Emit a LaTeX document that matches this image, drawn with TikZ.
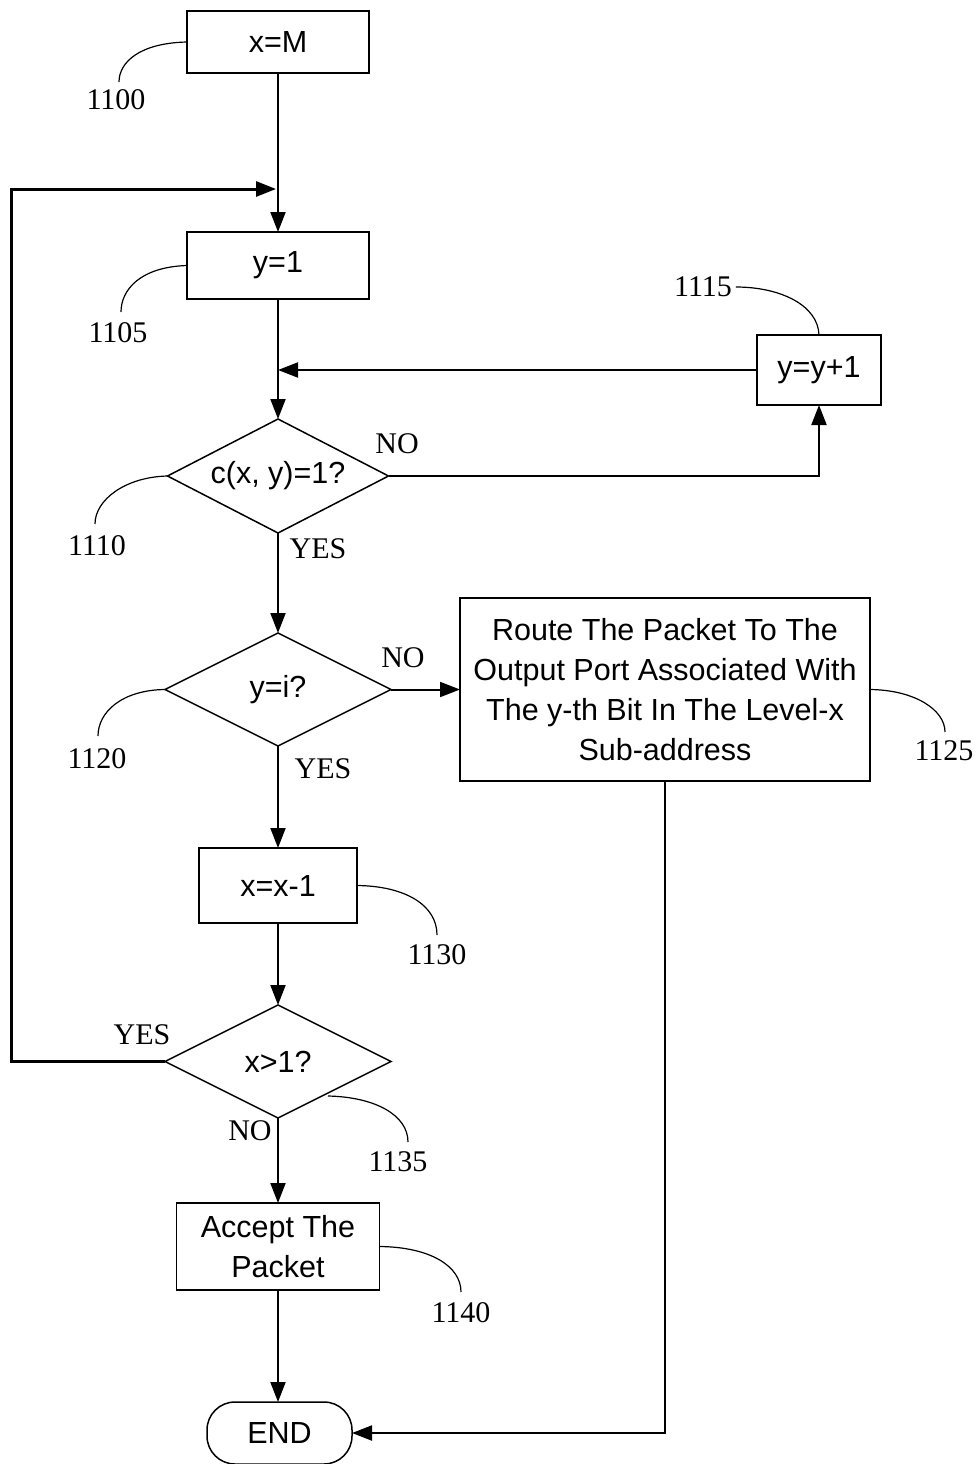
\documentclass[tikz,border=0pt]{standalone}
\usepackage{fontspec}
\setmainfont{Liberation Serif}
\newfontfamily\arialf{Liberation Sans}
\usetikzlibrary{arrows.meta,shapes.geometric}
\begin{document}
\begin{tikzpicture}[x=1pt,y=-1pt,
  every node/.style={inner sep=0pt,outer sep=0pt},
  box/.style={draw,line width=1.5pt,rectangle,align=center,font=\arialf\fontsize{30.5}{40}\selectfont},
  dia/.style={draw,line width=1.5pt,diamond,font=\arialf\fontsize{30.5}{40}\selectfont},
  lbl/.style={font=\fontsize{30}{32}\selectfont},
  arr/.style={line width=2pt,-{Triangle[length=20pt,width=15pt]}},
  lead/.style={line width=1.2pt}]
\useasboundingbox (0,0) rectangle (977,1464);
\fill[white] (0,0) rectangle (977,1464);

% nodes
\node[box,minimum width=182pt,minimum height=62pt] (b1100) at (278,42) {x=M};
\node[box,minimum width=182pt,minimum height=67pt] (b1105) at (278,265.5) {y=1};
\node[dia,minimum width=221pt,minimum height=114pt] (d1110) at (278,476) {\makebox[0pt]{c(x, y)=1?}};
\node[box,minimum width=124pt,minimum height=70pt] (b1115) at (819,370) {y=y+1};
\node[dia,minimum width=226pt,minimum height=113pt] (d1120) at (278,689.5) {\makebox[0pt]{y=i?}};
\node[box,minimum width=410pt,minimum height=183pt] (b1125) at (665,689.5)
  {Route The Packet To The\\Output Port Associated With\\The y-th Bit In The Level-x\\Sub-address};
\node[box,minimum width=158pt,minimum height=75pt] (b1130) at (278,885.5) {x=x-1};
\node[dia,minimum width=226pt,minimum height=113pt] (d1135) at (278,1061.5) {\makebox[0pt]{x>1?}};
\node[box,minimum width=203pt,minimum height=87pt] (b1140) at (278,1246.5) {Accept The\\Packet};
\node[box,rounded corners=28pt,minimum width=145pt,minimum height=62pt] (bend) at (279.5,1433) {END};

% connectors
\coordinate (loopin) at (276,189);
\coordinate (merge) at (278,370);
\coordinate (loopcorner) at (11,1061.5);
\draw[arr] (b1100.south) -- (b1105.north);
\draw[line width=3pt,-{Triangle[length=20pt,width=15pt]}] (d1135.west) -- (loopcorner) |- (loopin);
\draw[arr] (b1105.south) -- (d1110.north);
\draw[arr] (b1115.west) -- (merge);
\draw[arr] (d1110.east) -| (b1115.south);
\draw[arr] (d1110.south) -- (d1120.north);
\draw[arr] (d1120.east) -- (b1125.west);
\draw[arr] (d1120.south) -- (b1130.north);
\draw[arr] (b1130.south) -- (d1135.north);
\draw[arr] (d1135.south) -- (b1140.north);
\draw[arr] (b1140.south) -- (b1140.south |- bend.north);
\draw[arr] (b1125.south) |- (bend.east);

% branch labels
\node[lbl] (no1) at (397,444) {NO};
\node[lbl] (yes1) at (318,549) {YES};
\node[lbl] (no2) at (403,658) {NO};
\node[lbl] (yes2) at (323,769) {YES};
\node[lbl] (yes3) at (142,1035) {YES};
\node[lbl] (no3) at (250,1131) {NO};

% reference numerals and leaders
\node[lbl] (n1100) at (116,100) {1100};
\draw[lead] (b1100.west) .. controls (140,43) and (119,62) .. (119,82);
\node[lbl] (n1105) at (118,333) {1105};
\draw[lead] (b1105.west) .. controls (140,267) and (121,290) .. (121,312);
\node[lbl] (n1110) at (97,546) {1110};
\draw[lead] (d1110.west) .. controls (125,477) and (95,500) .. (95,524);
\node[lbl] (n1115) at (703,287) {1115};
\draw[lead] (n1115.east) ++(4,0) .. controls (780,287) and (818,305) .. (b1115.north);
\node[lbl] (n1120) at (97,759) {1120};
\draw[lead] (d1120.west) .. controls (122,690) and (98,712) .. (98,736);
\node[lbl] (n1125) at (944,751) {1125};
\draw[lead] (b1125.east) .. controls (915,690) and (945,710) .. (945,732);
\node[lbl] (n1130) at (437,955) {1130};
\draw[lead] (b1130.east) .. controls (405,886) and (437,905) .. (437,935);
\node[lbl] (n1135) at (398,1162) {1135};
\draw[lead] (328,1096) .. controls (375,1097) and (408,1115) .. (408,1142);
\node[lbl] (n1140) at (461,1313) {1140};
\draw[lead] (b1140.east) .. controls (430,1247) and (461,1266) .. (461,1292);
\end{tikzpicture}
\end{document}
